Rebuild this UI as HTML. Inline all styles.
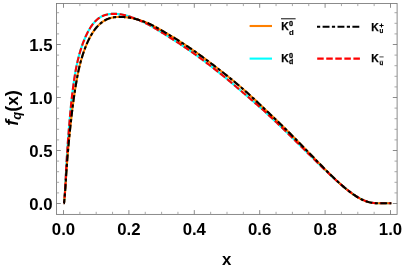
<!DOCTYPE html>
<html><head><meta charset="utf-8"><title>plot</title>
<style>
html,body{margin:0;padding:0;background:#fff;}
body{width:403px;height:270px;overflow:hidden;}
svg{display:block;will-change:transform;}
text{font-family:"Liberation Sans",sans-serif;font-weight:bold;fill:#000;}
.tl text{font-size:16.8px;}
</style></head><body>
<svg width="403" height="270" viewBox="0 0 403 270">
<rect width="403" height="270" fill="#fff"/>
<g fill="none" stroke-width="2.1" stroke-linejoin="round">
<path d="M63.70,203.30 L63.70,203.30 L63.70,203.30 L63.71,203.30 L63.71,203.30 L63.72,203.30 L63.72,203.30 L63.73,203.30 L63.74,203.30 L63.75,203.30 L63.76,203.30 L63.78,203.30 L63.79,203.30 L63.81,203.30 L63.83,203.30 L63.85,203.30 L63.87,203.29 L63.90,203.28 L63.92,203.25 L63.95,203.20 L63.98,203.10 L64.01,202.95 L64.05,202.73 L64.09,202.42 L64.13,202.03 L64.18,201.53 L64.23,200.93 L64.29,200.21 L64.36,199.39 L64.44,198.46 L64.53,197.43 L64.62,196.30 L64.72,195.08 L64.83,193.77 L64.93,192.38 L65.03,190.92 L65.11,189.40 L65.20,187.81 L65.29,186.18 L65.38,184.49 L65.47,182.77 L65.56,181.01 L65.65,179.23 L65.74,177.41 L65.83,175.58 L65.93,173.72 L66.03,171.86 L66.13,169.98 L66.23,168.09 L66.33,166.19 L66.43,164.29 L66.54,162.39 L66.65,160.49 L66.77,158.59 L66.88,156.69 L67.00,154.80 L67.12,152.91 L67.25,151.03 L67.37,149.15 L67.50,147.28 L67.63,145.43 L67.77,143.58 L67.90,141.74 L68.04,139.91 L68.17,138.09 L68.31,136.29 L68.45,134.49 L68.59,132.71 L68.74,130.94 L68.88,129.18 L69.02,127.44 L69.17,125.71 L69.31,123.99 L69.46,122.28 L69.60,120.59 L69.75,118.91 L69.90,117.25 L70.05,115.60 L70.19,113.96 L70.34,112.34 L70.49,110.73 L70.65,109.13 L70.80,107.55 L70.95,105.98 L71.11,104.43 L71.27,102.89 L71.43,101.37 L71.59,99.85 L71.76,98.36 L71.92,96.87 L72.09,95.41 L72.27,93.95 L72.44,92.51 L72.62,91.08 L72.80,89.67 L72.98,88.27 L73.16,86.89 L73.35,85.52 L73.53,84.16 L73.71,82.82 L73.90,81.49 L74.09,80.17 L74.28,78.87 L74.48,77.59 L74.68,76.31 L74.88,75.06 L75.08,73.81 L75.29,72.58 L75.51,71.36 L75.72,70.16 L75.95,68.97 L76.18,67.80 L76.41,66.64 L76.65,65.49 L76.89,64.36 L77.14,63.24 L77.39,62.14 L77.64,61.06 L77.89,59.99 L78.15,58.94 L78.41,57.90 L78.67,56.88 L78.93,55.87 L79.20,54.88 L79.47,53.90 L79.74,52.93 L80.02,51.98 L80.30,51.05 L80.58,50.13 L80.86,49.22 L81.14,48.32 L81.43,47.44 L81.72,46.57 L82.02,45.72 L82.31,44.87 L82.61,44.04 L82.91,43.22 L83.22,42.41 L83.52,41.61 L83.83,40.82 L84.14,40.04 L84.46,39.27 L84.78,38.52 L85.10,37.77 L85.42,37.04 L85.74,36.31 L86.07,35.61 L86.40,34.91 L86.74,34.23 L87.07,33.55 L87.40,32.89 L87.73,32.25 L88.06,31.61 L88.40,30.99 L88.73,30.38 L89.07,29.78 L89.41,29.19 L89.76,28.61 L90.10,28.05 L90.45,27.50 L90.80,26.96 L91.16,26.43 L91.52,25.91 L91.88,25.41 L92.25,24.92 L92.61,24.44 L92.98,23.96 L93.36,23.50 L93.73,23.05 L94.11,22.60 L94.49,22.17 L94.87,21.74 L95.25,21.33 L95.64,20.92 L96.03,20.53 L96.43,20.15 L96.82,19.78 L97.23,19.42 L97.63,19.08 L98.04,18.75 L98.45,18.43 L98.87,18.12 L99.28,17.83 L99.71,17.55 L100.13,17.28 L100.56,17.03 L101.00,16.79 L101.43,16.55 L101.87,16.33 L102.32,16.12 L102.76,15.92 L103.21,15.72 L103.67,15.54 L104.13,15.37 L104.59,15.20 L105.05,15.05 L105.52,14.91 L105.98,14.77 L106.46,14.65 L106.93,14.53 L107.41,14.42 L107.89,14.33 L108.38,14.24 L108.87,14.16 L109.36,14.09 L109.85,14.03 L110.35,13.97 L110.85,13.93 L111.35,13.90 L111.86,13.87 L112.36,13.85 L112.88,13.84 L113.39,13.84 L113.91,13.84 L114.43,13.84 L114.95,13.85 L115.48,13.87 L116.00,13.89 L116.54,13.92 L117.07,13.95 L117.61,13.99 L118.15,14.04 L118.69,14.09 L119.24,14.15 L119.79,14.22 L120.34,14.29 L120.90,14.38 L121.45,14.47 L122.02,14.58 L122.58,14.69 L123.15,14.81 L123.72,14.94 L124.29,15.07 L124.87,15.21 L125.45,15.36 L126.03,15.51 L126.61,15.68 L127.20,15.84 L127.79,16.02 L128.38,16.20 L128.98,16.38 L129.58,16.58 L130.18,16.78 L130.79,16.98 L131.40,17.19 L132.01,17.40 L132.63,17.62 L133.24,17.85 L133.87,18.07 L134.49,18.31 L135.12,18.55 L135.75,18.80 L136.38,19.05 L137.02,19.30 L137.65,19.56 L138.30,19.83 L138.94,20.10 L139.59,20.38 L140.24,20.67 L140.89,20.96 L141.55,21.25 L142.21,21.55 L142.88,21.86 L143.54,22.17 L144.21,22.49 L144.88,22.82 L145.56,23.15 L146.24,23.49 L146.92,23.83 L147.60,24.18 L148.29,24.54 L148.98,24.90 L149.68,25.27 L150.37,25.65 L151.07,26.04 L151.78,26.43 L152.48,26.83 L153.19,27.24 L153.90,27.65 L154.62,28.07 L155.34,28.50 L156.06,28.93 L156.78,29.36 L157.51,29.80 L158.24,30.25 L158.98,30.70 L159.71,31.15 L160.45,31.61 L161.20,32.06 L161.94,32.53 L162.69,32.99 L163.45,33.45 L164.20,33.92 L164.96,34.39 L165.72,34.86 L166.49,35.33 L167.25,35.81 L168.03,36.29 L168.80,36.77 L169.58,37.26 L170.36,37.75 L171.14,38.25 L171.93,38.75 L172.72,39.26 L173.51,39.77 L174.31,40.28 L175.11,40.80 L175.91,41.32 L176.72,41.85 L177.52,42.38 L178.34,42.91 L179.15,43.45 L179.97,43.99 L180.79,44.54 L181.62,45.09 L182.44,45.64 L183.27,46.20 L184.11,46.76 L184.95,47.33 L185.79,47.90 L186.63,48.47 L187.48,49.05 L188.33,49.64 L189.18,50.22 L190.04,50.82 L190.90,51.41 L191.76,52.01 L192.62,52.62 L193.49,53.24 L194.36,53.85 L195.24,54.48 L196.12,55.11 L197.00,55.74 L197.89,56.39 L198.77,57.03 L199.66,57.68 L200.56,58.34 L201.46,59.00 L202.36,59.67 L203.26,60.34 L204.17,61.02 L205.08,61.71 L205.99,62.39 L206.91,63.09 L207.83,63.79 L208.75,64.49 L209.68,65.20 L210.61,65.92 L211.54,66.63 L212.48,67.36 L213.42,68.09 L214.36,68.82 L215.31,69.56 L216.26,70.31 L217.21,71.06 L218.17,71.82 L219.12,72.58 L220.09,73.36 L221.05,74.14 L222.02,74.92 L222.99,75.71 L223.97,76.51 L224.95,77.31 L225.93,78.12 L226.91,78.93 L227.90,79.75 L228.89,80.58 L229.89,81.41 L230.88,82.25 L231.88,83.10 L232.89,83.96 L233.90,84.82 L234.91,85.69 L235.92,86.57 L236.94,87.44 L237.96,88.32 L238.98,89.19 L240.01,90.06 L241.04,90.93 L242.08,91.80 L243.11,92.68 L244.15,93.56 L245.20,94.44 L246.24,95.34 L247.29,96.23 L248.35,97.14 L249.40,98.05 L250.46,98.96 L251.53,99.88 L252.59,100.81 L253.66,101.74 L254.74,102.68 L255.81,103.62 L256.89,104.57 L257.98,105.51 L259.06,106.46 L260.15,107.41 L261.25,108.37 L262.34,109.34 L263.44,110.32 L264.54,111.32 L265.65,112.34 L266.76,113.36 L267.87,114.39 L268.99,115.42 L270.11,116.46 L271.23,117.51 L272.36,118.57 L273.49,119.63 L274.62,120.70 L275.76,121.77 L276.90,122.85 L278.04,123.94 L279.19,125.03 L280.34,126.13 L281.49,127.23 L282.64,128.34 L283.80,129.46 L284.97,130.59 L286.13,131.71 L287.30,132.85 L288.48,133.99 L289.65,135.14 L290.83,136.29 L292.01,137.45 L293.20,138.61 L294.39,139.78 L295.58,140.95 L296.78,142.13 L297.98,143.31 L299.18,144.50 L300.39,145.69 L301.60,146.89 L302.81,148.09 L304.03,149.29 L305.25,150.50 L306.47,151.71 L307.70,152.93 L308.93,154.14 L310.16,155.36 L311.40,156.59 L312.64,157.81 L313.88,159.04 L315.13,160.27 L316.38,161.50 L317.63,162.73 L318.89,163.96 L320.15,165.19 L321.41,166.42 L322.68,167.65 L323.95,168.87 L325.23,170.10 L326.50,171.32 L327.79,172.54 L329.07,173.76 L330.36,174.97 L331.65,176.18 L332.94,177.38 L334.24,178.57 L335.54,179.75 L336.85,180.93 L338.15,182.09 L339.47,183.25 L340.78,184.39 L342.10,185.52 L343.42,186.63 L344.75,187.73 L346.07,188.81 L347.41,189.86 L348.74,190.90 L350.08,191.91 L351.42,192.90 L352.77,193.85 L354.12,194.78 L355.47,195.67 L356.83,196.52 L358.19,197.34 L359.55,198.11 L360.91,198.84 L362.28,199.51 L363.66,200.14 L365.03,200.71 L366.41,201.23 L367.80,201.68 L369.18,202.08 L370.57,202.41 L371.97,202.68 L373.36,202.89 L374.77,203.05 L376.17,203.16 L377.58,203.23 L378.99,203.27 L380.40,203.29 L381.82,203.30 L383.24,203.30 L384.67,203.30 L386.09,203.30 L387.53,203.30 L388.96,203.30 L390.40,203.30 L391.30,203.30" stroke="#00ffff"/>
<path d="M63.70,203.30 L63.70,203.30 L63.70,203.30 L63.71,203.30 L63.71,203.30 L63.72,203.30 L63.72,203.30 L63.73,203.30 L63.74,203.30 L63.75,203.30 L63.76,203.30 L63.78,203.30 L63.79,203.30 L63.81,203.30 L63.83,203.30 L63.85,203.30 L63.87,203.29 L63.90,203.28 L63.92,203.25 L63.95,203.19 L63.98,203.10 L64.01,202.96 L64.05,202.77 L64.09,202.52 L64.13,202.19 L64.17,201.79 L64.22,201.31 L64.28,200.75 L64.34,200.11 L64.41,199.39 L64.49,198.60 L64.57,197.73 L64.66,196.80 L64.75,195.80 L64.85,194.74 L64.95,193.62 L65.05,192.46 L65.14,191.24 L65.23,189.98 L65.32,188.68 L65.41,187.35 L65.50,185.98 L65.59,184.58 L65.68,183.16 L65.77,181.71 L65.87,180.24 L65.96,178.75 L66.06,177.25 L66.16,175.73 L66.26,174.19 L66.37,172.65 L66.47,171.09 L66.58,169.52 L66.69,167.95 L66.80,166.37 L66.91,164.78 L67.03,163.19 L67.15,161.60 L67.27,160.00 L67.39,158.41 L67.52,156.81 L67.65,155.21 L67.78,153.61 L67.92,152.01 L68.06,150.41 L68.19,148.81 L68.34,147.22 L68.48,145.63 L68.63,144.04 L68.78,142.45 L68.93,140.87 L69.08,139.29 L69.23,137.72 L69.39,136.15 L69.54,134.58 L69.70,133.02 L69.86,131.47 L70.02,129.92 L70.19,128.38 L70.35,126.84 L70.51,125.31 L70.68,123.79 L70.85,122.27 L71.01,120.76 L71.18,119.26 L71.35,117.77 L71.52,116.28 L71.69,114.80 L71.87,113.33 L72.04,111.86 L72.22,110.41 L72.39,108.96 L72.57,107.52 L72.75,106.09 L72.94,104.67 L73.12,103.26 L73.31,101.86 L73.49,100.46 L73.69,99.08 L73.88,97.70 L74.07,96.34 L74.27,94.98 L74.47,93.63 L74.67,92.30 L74.88,90.97 L75.09,89.66 L75.30,88.35 L75.50,87.05 L75.71,85.77 L75.92,84.50 L76.13,83.23 L76.35,81.98 L76.56,80.74 L76.78,79.50 L77.00,78.29 L77.22,77.08 L77.44,75.89 L77.67,74.71 L77.90,73.54 L78.14,72.39 L78.38,71.25 L78.62,70.12 L78.87,69.01 L79.13,67.91 L79.38,66.82 L79.65,65.74 L79.92,64.68 L80.19,63.63 L80.46,62.59 L80.74,61.57 L81.02,60.56 L81.31,59.56 L81.60,58.57 L81.89,57.60 L82.18,56.64 L82.48,55.69 L82.77,54.75 L83.08,53.82 L83.38,52.91 L83.69,52.00 L84.00,51.11 L84.31,50.23 L84.63,49.36 L84.95,48.50 L85.27,47.66 L85.59,46.82 L85.92,46.00 L86.25,45.20 L86.58,44.40 L86.91,43.62 L87.25,42.85 L87.59,42.09 L87.93,41.35 L88.27,40.62 L88.62,39.90 L88.97,39.19 L89.32,38.49 L89.68,37.81 L90.04,37.14 L90.40,36.48 L90.76,35.83 L91.12,35.19 L91.49,34.56 L91.86,33.95 L92.23,33.35 L92.60,32.76 L92.97,32.18 L93.35,31.62 L93.72,31.06 L94.10,30.52 L94.48,29.99 L94.87,29.48 L95.25,28.97 L95.64,28.48 L96.04,27.99 L96.43,27.52 L96.84,27.06 L97.24,26.61 L97.65,26.17 L98.06,25.75 L98.47,25.33 L98.89,24.92 L99.31,24.52 L99.74,24.14 L100.17,23.76 L100.60,23.39 L101.03,23.03 L101.47,22.67 L101.90,22.33 L102.35,22.00 L102.79,21.67 L103.24,21.36 L103.69,21.06 L104.15,20.77 L104.61,20.49 L105.07,20.23 L105.53,19.97 L106.00,19.73 L106.47,19.51 L106.94,19.29 L107.42,19.08 L107.90,18.89 L108.39,18.70 L108.87,18.53 L109.36,18.36 L109.86,18.21 L110.35,18.06 L110.85,17.92 L111.35,17.80 L111.86,17.68 L112.37,17.57 L112.88,17.47 L113.39,17.38 L113.91,17.30 L114.43,17.22 L114.95,17.16 L115.48,17.10 L116.00,17.05 L116.54,17.01 L117.07,16.97 L117.61,16.95 L118.15,16.93 L118.69,16.92 L119.24,16.92 L119.79,16.92 L120.34,16.94 L120.90,16.95 L121.45,16.96 L122.02,16.98 L122.58,17.00 L123.15,17.02 L123.72,17.05 L124.29,17.09 L124.87,17.13 L125.45,17.18 L126.03,17.24 L126.61,17.31 L127.20,17.38 L127.79,17.46 L128.38,17.54 L128.98,17.63 L129.58,17.73 L130.18,17.83 L130.79,17.94 L131.40,18.06 L132.01,18.18 L132.63,18.31 L133.24,18.45 L133.87,18.59 L134.49,18.73 L135.12,18.88 L135.75,19.04 L136.38,19.20 L137.02,19.37 L137.65,19.55 L138.30,19.73 L138.94,19.93 L139.59,20.13 L140.24,20.34 L140.89,20.55 L141.55,20.77 L142.21,21.00 L142.88,21.22 L143.54,21.46 L144.21,21.70 L144.88,21.94 L145.56,22.20 L146.24,22.47 L146.92,22.74 L147.60,23.03 L148.29,23.33 L148.98,23.64 L149.68,23.96 L150.37,24.30 L151.07,24.65 L151.78,25.01 L152.48,25.37 L153.19,25.74 L153.90,26.11 L154.62,26.49 L155.34,26.88 L156.06,27.27 L156.78,27.67 L157.51,28.07 L158.24,28.48 L158.98,28.89 L159.71,29.31 L160.45,29.73 L161.20,30.16 L161.94,30.59 L162.69,31.02 L163.45,31.46 L164.20,31.90 L164.96,32.34 L165.72,32.79 L166.49,33.23 L167.25,33.69 L168.03,34.15 L168.80,34.61 L169.58,35.07 L170.36,35.54 L171.14,36.02 L171.93,36.50 L172.72,36.98 L173.51,37.47 L174.31,37.96 L175.11,38.45 L175.91,38.95 L176.72,39.46 L177.52,39.96 L178.34,40.48 L179.15,40.99 L179.97,41.52 L180.79,42.04 L181.62,42.57 L182.44,43.11 L183.27,43.65 L184.11,44.19 L184.95,44.74 L185.79,45.29 L186.63,45.85 L187.48,46.41 L188.33,46.98 L189.18,47.55 L190.04,48.13 L190.90,48.71 L191.76,49.30 L192.62,49.90 L193.49,50.50 L194.36,51.11 L195.24,51.73 L196.12,52.35 L197.00,52.97 L197.89,53.61 L198.77,54.25 L199.66,54.89 L200.56,55.54 L201.46,56.19 L202.36,56.85 L203.26,57.52 L204.17,58.19 L205.08,58.86 L205.99,59.54 L206.91,60.23 L207.83,60.92 L208.75,61.61 L209.68,62.31 L210.61,63.01 L211.54,63.72 L212.48,64.43 L213.42,65.14 L214.36,65.86 L215.31,66.58 L216.26,67.31 L217.21,68.04 L218.17,68.77 L219.12,69.51 L220.09,70.26 L221.05,71.01 L222.02,71.76 L222.99,72.53 L223.97,73.29 L224.95,74.07 L225.93,74.84 L226.91,75.63 L227.90,76.42 L228.89,77.22 L229.89,78.02 L230.88,78.83 L231.88,79.65 L232.89,80.47 L233.90,81.30 L234.91,82.14 L235.92,82.98 L236.94,83.84 L237.96,84.69 L238.98,85.56 L240.01,86.44 L241.04,87.32 L242.08,88.22 L243.11,89.12 L244.15,90.03 L245.20,90.96 L246.24,91.89 L247.29,92.83 L248.35,93.78 L249.40,94.74 L250.46,95.70 L251.53,96.68 L252.59,97.65 L253.66,98.64 L254.74,99.63 L255.81,100.63 L256.89,101.63 L257.98,102.65 L259.06,103.68 L260.15,104.71 L261.25,105.75 L262.34,106.79 L263.44,107.84 L264.54,108.89 L265.65,109.94 L266.76,110.99 L267.87,112.04 L268.99,113.09 L270.11,114.15 L271.23,115.21 L272.36,116.28 L273.49,117.35 L274.62,118.43 L275.76,119.51 L276.90,120.60 L278.04,121.70 L279.19,122.80 L280.34,123.91 L281.49,125.03 L282.64,126.16 L283.80,127.29 L284.97,128.43 L286.13,129.58 L287.30,130.74 L288.48,131.90 L289.65,133.08 L290.83,134.26 L292.01,135.45 L293.20,136.65 L294.39,137.85 L295.58,139.06 L296.78,140.28 L297.98,141.50 L299.18,142.72 L300.39,143.96 L301.60,145.20 L302.81,146.44 L304.03,147.69 L305.25,148.94 L306.47,150.20 L307.70,151.47 L308.93,152.74 L310.16,154.01 L311.40,155.29 L312.64,156.56 L313.88,157.85 L315.13,159.13 L316.38,160.41 L317.63,161.70 L318.89,162.99 L320.15,164.27 L321.41,165.56 L322.68,166.84 L323.95,168.13 L325.23,169.41 L326.50,170.69 L327.79,171.96 L329.07,173.23 L330.36,174.50 L331.65,175.75 L332.94,177.01 L334.24,178.25 L335.54,179.48 L336.85,180.71 L338.15,181.92 L339.47,183.12 L340.78,184.30 L342.10,185.47 L343.42,186.62 L344.75,187.76 L346.07,188.87 L347.41,189.95 L348.74,191.02 L350.08,192.05 L351.42,193.06 L352.77,194.04 L354.12,194.97 L355.47,195.88 L356.83,196.74 L358.19,197.56 L359.55,198.33 L360.91,199.05 L362.28,199.72 L363.66,200.33 L365.03,200.89 L366.41,201.39 L367.80,201.82 L369.18,202.20 L370.57,202.51 L371.97,202.76 L373.36,202.95 L374.77,203.09 L376.17,203.19 L377.58,203.25 L378.99,203.28 L380.40,203.29 L381.82,203.30 L383.24,203.30 L384.67,203.30 L386.09,203.30 L387.53,203.30 L388.96,203.30 L390.40,203.30 L391.30,203.30" stroke="#ff8000"/>
<path d="M63.70,203.30 L63.70,203.30 L63.70,203.30 L63.71,203.30 L63.71,203.30 L63.72,203.30 L63.72,203.30 L63.73,203.30 L63.74,203.30 L63.75,203.30 L63.76,203.30 L63.78,203.30 L63.79,203.30 L63.81,203.30 L63.83,203.30 L63.85,203.30 L63.87,203.29 L63.90,203.28 L63.92,203.25 L63.95,203.20 L63.98,203.10 L64.01,202.95 L64.05,202.73 L64.09,202.42 L64.13,202.03 L64.18,201.53 L64.23,200.93 L64.29,200.21 L64.36,199.39 L64.44,198.46 L64.53,197.43 L64.62,196.30 L64.72,195.08 L64.83,193.77 L64.93,192.38 L65.03,190.92 L65.11,189.40 L65.20,187.81 L65.29,186.18 L65.38,184.49 L65.47,182.77 L65.56,181.01 L65.65,179.23 L65.74,177.41 L65.83,175.58 L65.93,173.72 L66.03,171.86 L66.13,169.98 L66.23,168.09 L66.33,166.19 L66.43,164.29 L66.54,162.39 L66.65,160.49 L66.77,158.59 L66.88,156.69 L67.00,154.80 L67.12,152.91 L67.25,151.03 L67.37,149.15 L67.50,147.28 L67.63,145.43 L67.77,143.58 L67.90,141.74 L68.04,139.91 L68.17,138.09 L68.31,136.29 L68.45,134.49 L68.59,132.71 L68.74,130.94 L68.88,129.18 L69.02,127.44 L69.17,125.71 L69.31,123.99 L69.46,122.28 L69.60,120.59 L69.75,118.91 L69.90,117.25 L70.05,115.60 L70.19,113.96 L70.34,112.34 L70.49,110.73 L70.65,109.13 L70.80,107.55 L70.95,105.98 L71.11,104.43 L71.27,102.89 L71.43,101.37 L71.59,99.85 L71.76,98.36 L71.92,96.87 L72.09,95.41 L72.27,93.95 L72.44,92.51 L72.62,91.08 L72.80,89.67 L72.98,88.27 L73.16,86.89 L73.35,85.52 L73.53,84.16 L73.71,82.82 L73.90,81.49 L74.09,80.17 L74.28,78.87 L74.48,77.59 L74.68,76.31 L74.88,75.06 L75.08,73.81 L75.29,72.58 L75.51,71.36 L75.72,70.16 L75.95,68.97 L76.18,67.80 L76.41,66.64 L76.65,65.49 L76.89,64.36 L77.14,63.24 L77.39,62.14 L77.64,61.06 L77.89,59.99 L78.15,58.94 L78.41,57.90 L78.67,56.88 L78.93,55.87 L79.20,54.88 L79.47,53.90 L79.74,52.93 L80.02,51.98 L80.30,51.05 L80.58,50.13 L80.86,49.22 L81.14,48.32 L81.43,47.44 L81.72,46.57 L82.02,45.72 L82.31,44.87 L82.61,44.04 L82.91,43.22 L83.22,42.41 L83.52,41.61 L83.83,40.82 L84.14,40.04 L84.46,39.27 L84.78,38.52 L85.10,37.77 L85.42,37.04 L85.74,36.31 L86.07,35.61 L86.40,34.91 L86.74,34.23 L87.07,33.55 L87.40,32.89 L87.73,32.25 L88.06,31.61 L88.40,30.99 L88.73,30.38 L89.07,29.78 L89.41,29.19 L89.76,28.61 L90.10,28.05 L90.45,27.50 L90.80,26.96 L91.16,26.43 L91.52,25.91 L91.88,25.41 L92.25,24.92 L92.61,24.44 L92.98,23.96 L93.36,23.50 L93.73,23.05 L94.11,22.60 L94.49,22.17 L94.87,21.74 L95.25,21.33 L95.64,20.92 L96.03,20.53 L96.43,20.15 L96.82,19.78 L97.23,19.42 L97.63,19.08 L98.04,18.75 L98.45,18.43 L98.87,18.12 L99.28,17.83 L99.71,17.55 L100.13,17.28 L100.56,17.03 L101.00,16.79 L101.43,16.55 L101.87,16.33 L102.32,16.12 L102.76,15.92 L103.21,15.72 L103.67,15.54 L104.13,15.37 L104.59,15.20 L105.05,15.05 L105.52,14.91 L105.98,14.77 L106.46,14.65 L106.93,14.53 L107.41,14.42 L107.89,14.33 L108.38,14.24 L108.87,14.16 L109.36,14.09 L109.85,14.03 L110.35,13.97 L110.85,13.93 L111.35,13.90 L111.86,13.87 L112.36,13.85 L112.88,13.84 L113.39,13.84 L113.91,13.84 L114.43,13.84 L114.95,13.85 L115.48,13.87 L116.00,13.89 L116.54,13.92 L117.07,13.95 L117.61,13.99 L118.15,14.04 L118.69,14.09 L119.24,14.15 L119.79,14.22 L120.34,14.29 L120.90,14.38 L121.45,14.47 L122.02,14.58 L122.58,14.69 L123.15,14.81 L123.72,14.94 L124.29,15.07 L124.87,15.21 L125.45,15.36 L126.03,15.51 L126.61,15.68 L127.20,15.84 L127.79,16.02 L128.38,16.20 L128.98,16.38 L129.58,16.58 L130.18,16.78 L130.79,16.98 L131.40,17.19 L132.01,17.40 L132.63,17.62 L133.24,17.85 L133.87,18.07 L134.49,18.31 L135.12,18.55 L135.75,18.80 L136.38,19.05 L137.02,19.30 L137.65,19.56 L138.30,19.83 L138.94,20.10 L139.59,20.38 L140.24,20.67 L140.89,20.96 L141.55,21.25 L142.21,21.55 L142.88,21.86 L143.54,22.17 L144.21,22.49 L144.88,22.82 L145.56,23.15 L146.24,23.49 L146.92,23.83 L147.60,24.18 L148.29,24.54 L148.98,24.90 L149.68,25.27 L150.37,25.65 L151.07,26.04 L151.78,26.43 L152.48,26.83 L153.19,27.24 L153.90,27.65 L154.62,28.07 L155.34,28.50 L156.06,28.93 L156.78,29.36 L157.51,29.80 L158.24,30.25 L158.98,30.70 L159.71,31.15 L160.45,31.61 L161.20,32.06 L161.94,32.53 L162.69,32.99 L163.45,33.45 L164.20,33.92 L164.96,34.39 L165.72,34.86 L166.49,35.33 L167.25,35.81 L168.03,36.29 L168.80,36.77 L169.58,37.26 L170.36,37.75 L171.14,38.25 L171.93,38.75 L172.72,39.26 L173.51,39.77 L174.31,40.28 L175.11,40.80 L175.91,41.32 L176.72,41.85 L177.52,42.38 L178.34,42.91 L179.15,43.45 L179.97,43.99 L180.79,44.54 L181.62,45.09 L182.44,45.64 L183.27,46.20 L184.11,46.76 L184.95,47.33 L185.79,47.90 L186.63,48.47 L187.48,49.05 L188.33,49.64 L189.18,50.22 L190.04,50.82 L190.90,51.41 L191.76,52.01 L192.62,52.62 L193.49,53.24 L194.36,53.85 L195.24,54.48 L196.12,55.11 L197.00,55.74 L197.89,56.39 L198.77,57.03 L199.66,57.68 L200.56,58.34 L201.46,59.00 L202.36,59.67 L203.26,60.34 L204.17,61.02 L205.08,61.71 L205.99,62.39 L206.91,63.09 L207.83,63.79 L208.75,64.49 L209.68,65.20 L210.61,65.92 L211.54,66.63 L212.48,67.36 L213.42,68.09 L214.36,68.82 L215.31,69.56 L216.26,70.31 L217.21,71.06 L218.17,71.82 L219.12,72.58 L220.09,73.36 L221.05,74.14 L222.02,74.92 L222.99,75.71 L223.97,76.51 L224.95,77.31 L225.93,78.12 L226.91,78.93 L227.90,79.75 L228.89,80.58 L229.89,81.41 L230.88,82.25 L231.88,83.10 L232.89,83.96 L233.90,84.82 L234.91,85.69 L235.92,86.57 L236.94,87.44 L237.96,88.32 L238.98,89.19 L240.01,90.06 L241.04,90.93 L242.08,91.80 L243.11,92.68 L244.15,93.56 L245.20,94.44 L246.24,95.34 L247.29,96.23 L248.35,97.14 L249.40,98.05 L250.46,98.96 L251.53,99.88 L252.59,100.81 L253.66,101.74 L254.74,102.68 L255.81,103.62 L256.89,104.57 L257.98,105.51 L259.06,106.46 L260.15,107.41 L261.25,108.37 L262.34,109.34 L263.44,110.32 L264.54,111.32 L265.65,112.34 L266.76,113.36 L267.87,114.39 L268.99,115.42 L270.11,116.46 L271.23,117.51 L272.36,118.57 L273.49,119.63 L274.62,120.70 L275.76,121.77 L276.90,122.85 L278.04,123.94 L279.19,125.03 L280.34,126.13 L281.49,127.23 L282.64,128.34 L283.80,129.46 L284.97,130.59 L286.13,131.71 L287.30,132.85 L288.48,133.99 L289.65,135.14 L290.83,136.29 L292.01,137.45 L293.20,138.61 L294.39,139.78 L295.58,140.95 L296.78,142.13 L297.98,143.31 L299.18,144.50 L300.39,145.69 L301.60,146.89 L302.81,148.09 L304.03,149.29 L305.25,150.50 L306.47,151.71 L307.70,152.93 L308.93,154.14 L310.16,155.36 L311.40,156.59 L312.64,157.81 L313.88,159.04 L315.13,160.27 L316.38,161.50 L317.63,162.73 L318.89,163.96 L320.15,165.19 L321.41,166.42 L322.68,167.65 L323.95,168.87 L325.23,170.10 L326.50,171.32 L327.79,172.54 L329.07,173.76 L330.36,174.97 L331.65,176.18 L332.94,177.38 L334.24,178.57 L335.54,179.75 L336.85,180.93 L338.15,182.09 L339.47,183.25 L340.78,184.39 L342.10,185.52 L343.42,186.63 L344.75,187.73 L346.07,188.81 L347.41,189.86 L348.74,190.90 L350.08,191.91 L351.42,192.90 L352.77,193.85 L354.12,194.78 L355.47,195.67 L356.83,196.52 L358.19,197.34 L359.55,198.11 L360.91,198.84 L362.28,199.51 L363.66,200.14 L365.03,200.71 L366.41,201.23 L367.80,201.68 L369.18,202.08 L370.57,202.41 L371.97,202.68 L373.36,202.89 L374.77,203.05 L376.17,203.16 L377.58,203.23 L378.99,203.27 L380.40,203.29 L381.82,203.30 L383.24,203.30 L384.67,203.30 L386.09,203.30 L387.53,203.30 L388.96,203.30 L390.40,203.30 L391.30,203.30" stroke="#ff0000" stroke-dasharray="6.5 2.55" stroke-dashoffset="3.6"/>
<path d="M63.70,203.30 L63.70,203.30 L63.70,203.30 L63.71,203.30 L63.71,203.30 L63.72,203.30 L63.72,203.30 L63.73,203.30 L63.74,203.30 L63.75,203.30 L63.76,203.30 L63.78,203.30 L63.79,203.30 L63.81,203.30 L63.83,203.30 L63.85,203.30 L63.87,203.29 L63.90,203.28 L63.92,203.25 L63.95,203.19 L63.98,203.10 L64.01,202.96 L64.05,202.77 L64.09,202.52 L64.13,202.19 L64.17,201.79 L64.22,201.31 L64.28,200.75 L64.34,200.11 L64.41,199.39 L64.49,198.60 L64.57,197.73 L64.66,196.80 L64.75,195.80 L64.85,194.74 L64.95,193.62 L65.05,192.46 L65.14,191.24 L65.23,189.98 L65.32,188.68 L65.41,187.35 L65.50,185.98 L65.59,184.58 L65.68,183.16 L65.77,181.71 L65.87,180.24 L65.96,178.75 L66.06,177.25 L66.16,175.73 L66.26,174.19 L66.37,172.65 L66.47,171.09 L66.58,169.52 L66.69,167.95 L66.80,166.37 L66.91,164.78 L67.03,163.19 L67.15,161.60 L67.27,160.00 L67.39,158.41 L67.52,156.81 L67.65,155.21 L67.78,153.61 L67.92,152.01 L68.06,150.41 L68.19,148.81 L68.34,147.22 L68.48,145.63 L68.63,144.04 L68.78,142.45 L68.93,140.87 L69.08,139.29 L69.23,137.72 L69.39,136.15 L69.54,134.58 L69.70,133.02 L69.86,131.47 L70.02,129.92 L70.19,128.38 L70.35,126.84 L70.51,125.31 L70.68,123.79 L70.85,122.27 L71.01,120.76 L71.18,119.26 L71.35,117.77 L71.52,116.28 L71.69,114.80 L71.87,113.33 L72.04,111.86 L72.22,110.41 L72.39,108.96 L72.57,107.52 L72.75,106.09 L72.94,104.67 L73.12,103.26 L73.31,101.86 L73.49,100.46 L73.69,99.08 L73.88,97.70 L74.07,96.34 L74.27,94.98 L74.47,93.63 L74.67,92.30 L74.88,90.97 L75.09,89.66 L75.30,88.35 L75.50,87.05 L75.71,85.77 L75.92,84.50 L76.13,83.23 L76.35,81.98 L76.56,80.74 L76.78,79.50 L77.00,78.29 L77.22,77.08 L77.44,75.89 L77.67,74.71 L77.90,73.54 L78.14,72.39 L78.38,71.25 L78.62,70.12 L78.87,69.01 L79.13,67.91 L79.38,66.82 L79.65,65.74 L79.92,64.68 L80.19,63.63 L80.46,62.59 L80.74,61.57 L81.02,60.56 L81.31,59.56 L81.60,58.57 L81.89,57.60 L82.18,56.64 L82.48,55.69 L82.77,54.75 L83.08,53.82 L83.38,52.91 L83.69,52.00 L84.00,51.11 L84.31,50.23 L84.63,49.36 L84.95,48.50 L85.27,47.66 L85.59,46.82 L85.92,46.00 L86.25,45.20 L86.58,44.40 L86.91,43.62 L87.25,42.85 L87.59,42.09 L87.93,41.35 L88.27,40.62 L88.62,39.90 L88.97,39.19 L89.32,38.49 L89.68,37.81 L90.04,37.14 L90.40,36.48 L90.76,35.83 L91.12,35.19 L91.49,34.56 L91.86,33.95 L92.23,33.35 L92.60,32.76 L92.97,32.18 L93.35,31.62 L93.72,31.06 L94.10,30.52 L94.48,29.99 L94.87,29.48 L95.25,28.97 L95.64,28.48 L96.04,27.99 L96.43,27.52 L96.84,27.06 L97.24,26.61 L97.65,26.17 L98.06,25.75 L98.47,25.33 L98.89,24.92 L99.31,24.52 L99.74,24.14 L100.17,23.76 L100.60,23.39 L101.03,23.03 L101.47,22.67 L101.90,22.33 L102.35,22.00 L102.79,21.67 L103.24,21.36 L103.69,21.06 L104.15,20.77 L104.61,20.49 L105.07,20.23 L105.53,19.97 L106.00,19.73 L106.47,19.51 L106.94,19.29 L107.42,19.08 L107.90,18.89 L108.39,18.70 L108.87,18.53 L109.36,18.36 L109.86,18.21 L110.35,18.06 L110.85,17.92 L111.35,17.80 L111.86,17.68 L112.37,17.57 L112.88,17.47 L113.39,17.38 L113.91,17.30 L114.43,17.22 L114.95,17.16 L115.48,17.10 L116.00,17.05 L116.54,17.01 L117.07,16.97 L117.61,16.95 L118.15,16.93 L118.69,16.92 L119.24,16.92 L119.79,16.92 L120.34,16.94 L120.90,16.95 L121.45,16.96 L122.02,16.98 L122.58,17.00 L123.15,17.02 L123.72,17.05 L124.29,17.09 L124.87,17.13 L125.45,17.18 L126.03,17.24 L126.61,17.31 L127.20,17.38 L127.79,17.46 L128.38,17.54 L128.98,17.63 L129.58,17.73 L130.18,17.83 L130.79,17.94 L131.40,18.06 L132.01,18.18 L132.63,18.31 L133.24,18.45 L133.87,18.59 L134.49,18.73 L135.12,18.88 L135.75,19.04 L136.38,19.20 L137.02,19.37 L137.65,19.55 L138.30,19.73 L138.94,19.93 L139.59,20.13 L140.24,20.34 L140.89,20.55 L141.55,20.77 L142.21,21.00 L142.88,21.22 L143.54,21.46 L144.21,21.70 L144.88,21.94 L145.56,22.20 L146.24,22.47 L146.92,22.74 L147.60,23.03 L148.29,23.33 L148.98,23.64 L149.68,23.96 L150.37,24.30 L151.07,24.65 L151.78,25.01 L152.48,25.37 L153.19,25.74 L153.90,26.11 L154.62,26.49 L155.34,26.88 L156.06,27.27 L156.78,27.67 L157.51,28.07 L158.24,28.48 L158.98,28.89 L159.71,29.31 L160.45,29.73 L161.20,30.16 L161.94,30.59 L162.69,31.02 L163.45,31.46 L164.20,31.90 L164.96,32.34 L165.72,32.79 L166.49,33.23 L167.25,33.69 L168.03,34.15 L168.80,34.61 L169.58,35.07 L170.36,35.54 L171.14,36.02 L171.93,36.50 L172.72,36.98 L173.51,37.47 L174.31,37.96 L175.11,38.45 L175.91,38.95 L176.72,39.46 L177.52,39.96 L178.34,40.48 L179.15,40.99 L179.97,41.52 L180.79,42.04 L181.62,42.57 L182.44,43.11 L183.27,43.65 L184.11,44.19 L184.95,44.74 L185.79,45.29 L186.63,45.85 L187.48,46.41 L188.33,46.98 L189.18,47.55 L190.04,48.13 L190.90,48.71 L191.76,49.30 L192.62,49.90 L193.49,50.50 L194.36,51.11 L195.24,51.73 L196.12,52.35 L197.00,52.97 L197.89,53.61 L198.77,54.25 L199.66,54.89 L200.56,55.54 L201.46,56.19 L202.36,56.85 L203.26,57.52 L204.17,58.19 L205.08,58.86 L205.99,59.54 L206.91,60.23 L207.83,60.92 L208.75,61.61 L209.68,62.31 L210.61,63.01 L211.54,63.72 L212.48,64.43 L213.42,65.14 L214.36,65.86 L215.31,66.58 L216.26,67.31 L217.21,68.04 L218.17,68.77 L219.12,69.51 L220.09,70.26 L221.05,71.01 L222.02,71.76 L222.99,72.53 L223.97,73.29 L224.95,74.07 L225.93,74.84 L226.91,75.63 L227.90,76.42 L228.89,77.22 L229.89,78.02 L230.88,78.83 L231.88,79.65 L232.89,80.47 L233.90,81.30 L234.91,82.14 L235.92,82.98 L236.94,83.84 L237.96,84.69 L238.98,85.56 L240.01,86.44 L241.04,87.32 L242.08,88.22 L243.11,89.12 L244.15,90.03 L245.20,90.96 L246.24,91.89 L247.29,92.83 L248.35,93.78 L249.40,94.74 L250.46,95.70 L251.53,96.68 L252.59,97.65 L253.66,98.64 L254.74,99.63 L255.81,100.63 L256.89,101.63 L257.98,102.65 L259.06,103.68 L260.15,104.71 L261.25,105.75 L262.34,106.79 L263.44,107.84 L264.54,108.89 L265.65,109.94 L266.76,110.99 L267.87,112.04 L268.99,113.09 L270.11,114.15 L271.23,115.21 L272.36,116.28 L273.49,117.35 L274.62,118.43 L275.76,119.51 L276.90,120.60 L278.04,121.70 L279.19,122.80 L280.34,123.91 L281.49,125.03 L282.64,126.16 L283.80,127.29 L284.97,128.43 L286.13,129.58 L287.30,130.74 L288.48,131.90 L289.65,133.08 L290.83,134.26 L292.01,135.45 L293.20,136.65 L294.39,137.85 L295.58,139.06 L296.78,140.28 L297.98,141.50 L299.18,142.72 L300.39,143.96 L301.60,145.20 L302.81,146.44 L304.03,147.69 L305.25,148.94 L306.47,150.20 L307.70,151.47 L308.93,152.74 L310.16,154.01 L311.40,155.29 L312.64,156.56 L313.88,157.85 L315.13,159.13 L316.38,160.41 L317.63,161.70 L318.89,162.99 L320.15,164.27 L321.41,165.56 L322.68,166.84 L323.95,168.13 L325.23,169.41 L326.50,170.69 L327.79,171.96 L329.07,173.23 L330.36,174.50 L331.65,175.75 L332.94,177.01 L334.24,178.25 L335.54,179.48 L336.85,180.71 L338.15,181.92 L339.47,183.12 L340.78,184.30 L342.10,185.47 L343.42,186.62 L344.75,187.76 L346.07,188.87 L347.41,189.95 L348.74,191.02 L350.08,192.05 L351.42,193.06 L352.77,194.04 L354.12,194.97 L355.47,195.88 L356.83,196.74 L358.19,197.56 L359.55,198.33 L360.91,199.05 L362.28,199.72 L363.66,200.33 L365.03,200.89 L366.41,201.39 L367.80,201.82 L369.18,202.20 L370.57,202.51 L371.97,202.76 L373.36,202.95 L374.77,203.09 L376.17,203.19 L377.58,203.25 L378.99,203.28 L380.40,203.29 L381.82,203.30 L383.24,203.30 L384.67,203.30 L386.09,203.30 L387.53,203.30 L388.96,203.30 L390.40,203.30 L391.30,203.30" stroke="#000" stroke-dasharray="3.2 2.4 6.9 2.4" stroke-dashoffset="7.9"/>
</g>
<g stroke="#777" stroke-width="0.85" fill="none">
<rect x="56.5" y="3.5" width="340.6" height="210.9"/>
<line x1="63.50" y1="214.4" x2="63.50" y2="210.1"/>
<line x1="63.50" y1="3.5" x2="63.50" y2="7.8"/>
<line x1="79.85" y1="214.4" x2="79.85" y2="211.8" stroke="#9a9a9a"/>
<line x1="79.85" y1="3.5" x2="79.85" y2="6.1" stroke="#9a9a9a"/>
<line x1="96.20" y1="214.4" x2="96.20" y2="211.8" stroke="#9a9a9a"/>
<line x1="96.20" y1="3.5" x2="96.20" y2="6.1" stroke="#9a9a9a"/>
<line x1="112.55" y1="214.4" x2="112.55" y2="211.8" stroke="#9a9a9a"/>
<line x1="112.55" y1="3.5" x2="112.55" y2="6.1" stroke="#9a9a9a"/>
<line x1="128.90" y1="214.4" x2="128.90" y2="210.1"/>
<line x1="128.90" y1="3.5" x2="128.90" y2="7.8"/>
<line x1="145.25" y1="214.4" x2="145.25" y2="211.8" stroke="#9a9a9a"/>
<line x1="145.25" y1="3.5" x2="145.25" y2="6.1" stroke="#9a9a9a"/>
<line x1="161.60" y1="214.4" x2="161.60" y2="211.8" stroke="#9a9a9a"/>
<line x1="161.60" y1="3.5" x2="161.60" y2="6.1" stroke="#9a9a9a"/>
<line x1="177.95" y1="214.4" x2="177.95" y2="211.8" stroke="#9a9a9a"/>
<line x1="177.95" y1="3.5" x2="177.95" y2="6.1" stroke="#9a9a9a"/>
<line x1="194.30" y1="214.4" x2="194.30" y2="210.1"/>
<line x1="194.30" y1="3.5" x2="194.30" y2="7.8"/>
<line x1="210.65" y1="214.4" x2="210.65" y2="211.8" stroke="#9a9a9a"/>
<line x1="210.65" y1="3.5" x2="210.65" y2="6.1" stroke="#9a9a9a"/>
<line x1="227.00" y1="214.4" x2="227.00" y2="211.8" stroke="#9a9a9a"/>
<line x1="227.00" y1="3.5" x2="227.00" y2="6.1" stroke="#9a9a9a"/>
<line x1="243.35" y1="214.4" x2="243.35" y2="211.8" stroke="#9a9a9a"/>
<line x1="243.35" y1="3.5" x2="243.35" y2="6.1" stroke="#9a9a9a"/>
<line x1="259.70" y1="214.4" x2="259.70" y2="210.1"/>
<line x1="259.70" y1="3.5" x2="259.70" y2="7.8"/>
<line x1="276.05" y1="214.4" x2="276.05" y2="211.8" stroke="#9a9a9a"/>
<line x1="276.05" y1="3.5" x2="276.05" y2="6.1" stroke="#9a9a9a"/>
<line x1="292.40" y1="214.4" x2="292.40" y2="211.8" stroke="#9a9a9a"/>
<line x1="292.40" y1="3.5" x2="292.40" y2="6.1" stroke="#9a9a9a"/>
<line x1="308.75" y1="214.4" x2="308.75" y2="211.8" stroke="#9a9a9a"/>
<line x1="308.75" y1="3.5" x2="308.75" y2="6.1" stroke="#9a9a9a"/>
<line x1="325.10" y1="214.4" x2="325.10" y2="210.1"/>
<line x1="325.10" y1="3.5" x2="325.10" y2="7.8"/>
<line x1="341.45" y1="214.4" x2="341.45" y2="211.8" stroke="#9a9a9a"/>
<line x1="341.45" y1="3.5" x2="341.45" y2="6.1" stroke="#9a9a9a"/>
<line x1="357.80" y1="214.4" x2="357.80" y2="211.8" stroke="#9a9a9a"/>
<line x1="357.80" y1="3.5" x2="357.80" y2="6.1" stroke="#9a9a9a"/>
<line x1="374.15" y1="214.4" x2="374.15" y2="211.8" stroke="#9a9a9a"/>
<line x1="374.15" y1="3.5" x2="374.15" y2="6.1" stroke="#9a9a9a"/>
<line x1="390.50" y1="214.4" x2="390.50" y2="210.1"/>
<line x1="390.50" y1="3.5" x2="390.50" y2="7.8"/>
<line x1="56.5" y1="203.50" x2="60.8" y2="203.50"/>
<line x1="397.1" y1="203.50" x2="392.8" y2="203.50"/>
<line x1="56.5" y1="192.90" x2="59.1" y2="192.90" stroke="#9a9a9a"/>
<line x1="397.1" y1="192.90" x2="394.5" y2="192.90" stroke="#9a9a9a"/>
<line x1="56.5" y1="182.30" x2="59.1" y2="182.30" stroke="#9a9a9a"/>
<line x1="397.1" y1="182.30" x2="394.5" y2="182.30" stroke="#9a9a9a"/>
<line x1="56.5" y1="171.70" x2="59.1" y2="171.70" stroke="#9a9a9a"/>
<line x1="397.1" y1="171.70" x2="394.5" y2="171.70" stroke="#9a9a9a"/>
<line x1="56.5" y1="161.10" x2="59.1" y2="161.10" stroke="#9a9a9a"/>
<line x1="397.1" y1="161.10" x2="394.5" y2="161.10" stroke="#9a9a9a"/>
<line x1="56.5" y1="150.50" x2="60.8" y2="150.50"/>
<line x1="397.1" y1="150.50" x2="392.8" y2="150.50"/>
<line x1="56.5" y1="139.90" x2="59.1" y2="139.90" stroke="#9a9a9a"/>
<line x1="397.1" y1="139.90" x2="394.5" y2="139.90" stroke="#9a9a9a"/>
<line x1="56.5" y1="129.30" x2="59.1" y2="129.30" stroke="#9a9a9a"/>
<line x1="397.1" y1="129.30" x2="394.5" y2="129.30" stroke="#9a9a9a"/>
<line x1="56.5" y1="118.70" x2="59.1" y2="118.70" stroke="#9a9a9a"/>
<line x1="397.1" y1="118.70" x2="394.5" y2="118.70" stroke="#9a9a9a"/>
<line x1="56.5" y1="108.10" x2="59.1" y2="108.10" stroke="#9a9a9a"/>
<line x1="397.1" y1="108.10" x2="394.5" y2="108.10" stroke="#9a9a9a"/>
<line x1="56.5" y1="97.50" x2="60.8" y2="97.50"/>
<line x1="397.1" y1="97.50" x2="392.8" y2="97.50"/>
<line x1="56.5" y1="86.90" x2="59.1" y2="86.90" stroke="#9a9a9a"/>
<line x1="397.1" y1="86.90" x2="394.5" y2="86.90" stroke="#9a9a9a"/>
<line x1="56.5" y1="76.30" x2="59.1" y2="76.30" stroke="#9a9a9a"/>
<line x1="397.1" y1="76.30" x2="394.5" y2="76.30" stroke="#9a9a9a"/>
<line x1="56.5" y1="65.70" x2="59.1" y2="65.70" stroke="#9a9a9a"/>
<line x1="397.1" y1="65.70" x2="394.5" y2="65.70" stroke="#9a9a9a"/>
<line x1="56.5" y1="55.10" x2="59.1" y2="55.10" stroke="#9a9a9a"/>
<line x1="397.1" y1="55.10" x2="394.5" y2="55.10" stroke="#9a9a9a"/>
<line x1="56.5" y1="44.50" x2="60.8" y2="44.50"/>
<line x1="397.1" y1="44.50" x2="392.8" y2="44.50"/>
<line x1="56.5" y1="33.90" x2="59.1" y2="33.90" stroke="#9a9a9a"/>
<line x1="397.1" y1="33.90" x2="394.5" y2="33.90" stroke="#9a9a9a"/>
<line x1="56.5" y1="23.30" x2="59.1" y2="23.30" stroke="#9a9a9a"/>
<line x1="397.1" y1="23.30" x2="394.5" y2="23.30" stroke="#9a9a9a"/>
<line x1="56.5" y1="12.70" x2="59.1" y2="12.70" stroke="#9a9a9a"/>
<line x1="397.1" y1="12.70" x2="394.5" y2="12.70" stroke="#9a9a9a"/>
</g>
<g class="tl">
<text x="63.50" y="234.5" text-anchor="middle">0.0</text>
<text x="128.90" y="234.5" text-anchor="middle">0.2</text>
<text x="194.30" y="234.5" text-anchor="middle">0.4</text>
<text x="259.70" y="234.5" text-anchor="middle">0.6</text>
<text x="325.10" y="234.5" text-anchor="middle">0.8</text>
<text x="390.50" y="234.5" text-anchor="middle">1.0</text>
<text x="52.6" y="209.90" text-anchor="end">0.0</text>
<text x="52.6" y="156.90" text-anchor="end">0.5</text>
<text x="52.6" y="103.90" text-anchor="end">1.0</text>
<text x="52.6" y="50.90" text-anchor="end">1.5</text>
<text x="226.7" y="264.8" text-anchor="middle">x</text>
<text transform="translate(17.6,107.9) rotate(-90)" text-anchor="middle"><tspan font-style="italic" font-size="18px">f</tspan><tspan font-style="italic" font-size="13px" dy="3.3">q</tspan><tspan dy="-2.9" font-size="18.4px">(</tspan><tspan dy="-0.4">x</tspan><tspan dy="0.4" font-size="18.4px">)</tspan></text>
</g>
<g class="lg">
<g fill="none" stroke-width="2.1">
<line x1="249.6" y1="26" x2="272" y2="26" stroke="#ff8000"/>
<line x1="249.6" y1="58.6" x2="272" y2="58.6" stroke="#00ffff"/>
<line x1="317.0" y1="26.75" x2="359.6" y2="26.75" stroke="#000" stroke-dasharray="3.2 2.4 6.9 2.4"/>
<line x1="317.2" y1="58.6" x2="359.9" y2="58.6" stroke="#ff0000" stroke-dasharray="6.5 2.55"/>
</g>
<line x1="281.0" y1="18.75" x2="295.6" y2="18.75" stroke="#333" stroke-width="1.2"/>
<g stroke="#000" stroke-width="0.25" style="font-size:10.4px">
<text x="281.2" y="29.8">K</text><text x="281.2" y="62.0">K</text><text x="371.2" y="30.5">K</text><text x="371.2" y="62.0">K</text>
</g>
<g stroke="#000" stroke-width="0.3" style="font-size:7px;font-weight:normal">
<text x="289.0" y="26.0" style="font-size:7.3px">0</text><text x="289.0" y="35.0" style="font-size:7.8px;stroke-width:0.15">d</text>
<text x="289.0" y="57.9" style="font-size:7.3px">0</text><text x="289.0" y="64.4">d</text>
<text transform="translate(379.5,32.9) scale(0.85,1)" style="font-size:7.4px;text-rendering:geometricPrecision;stroke-width:0.2">u</text>
<text x="379.6" y="64.9" style="font-size:6.2px;text-rendering:geometricPrecision;stroke-width:0.25">u</text>
</g>
<line x1="379.4" y1="56.9" x2="383.6" y2="56.9" stroke="#555" stroke-width="1.1"/>
<path d="M379.4,25.5H383.6M381.5,23.4V27.6" stroke="#000" stroke-width="1.1" fill="none"/>
<line x1="379.8" y1="61.2" x2="383.1" y2="61.2" stroke="#222" stroke-width="0.6"/>
</g>
</svg>
</body></html>
